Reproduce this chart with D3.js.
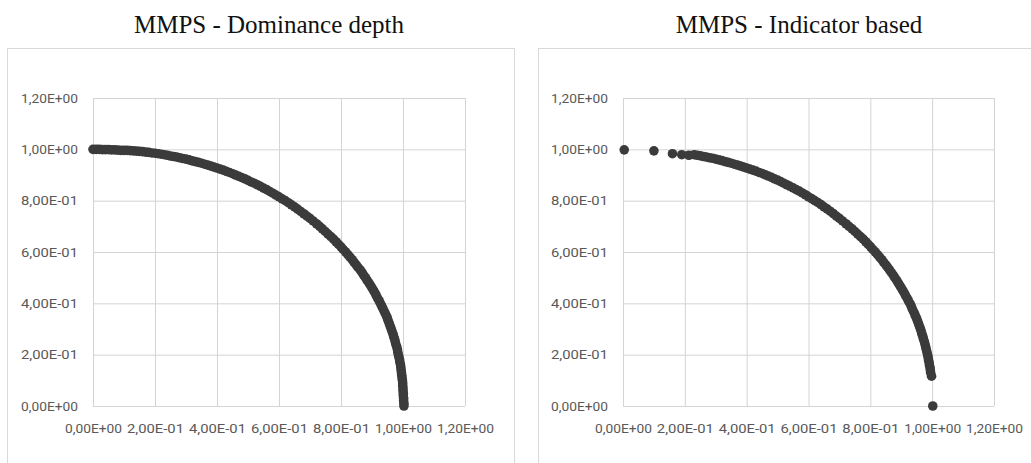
<!DOCTYPE html>
<html lang="en">
<head>
    <meta charset="UTF-8">
    <title>MMPS scatter plots</title>
    <script type="text/javascript" src="https://cdn.jsdelivr.net/npm/d3@7"></script>
    <style>
        body { margin: 0; background: #fff; }
    </style>
</head>
<body>
<script type="text/javascript">
    var w = 1031;
    var h = 463;

    var titles = ["MMPS - Dominance depth", "MMPS - Indicator based"];
    var tickValues = [0, 0.2, 0.4, 0.6, 0.8, 1.0, 1.2];
    var tickLabels = ["0,00E+00", "2,00E-01", "4,00E-01", "6,00E-01", "8,00E-01", "1,00E+00", "1,20E+00"];

    // points (upper part then the steep part)
    var depthPoints = [
        [0.00, 1.000], [0.01, 1.000], [0.02, 1.000], [0.03, 0.999], [0.04, 0.999], [0.05, 0.999],
        [0.06, 0.998], [0.07, 0.998], [0.08, 0.997], [0.09, 0.996], [0.10, 0.996], [0.11, 0.996],
        [0.12, 0.995], [0.13, 0.994], [0.14, 0.993], [0.15, 0.992], [0.16, 0.991], [0.17, 0.989],
        [0.18, 0.988], [0.19, 0.986], [0.20, 0.985], [0.21, 0.983], [0.22, 0.981], [0.23, 0.979],
        [0.24, 0.977], [0.25, 0.974], [0.26, 0.972], [0.27, 0.970], [0.28, 0.967], [0.29, 0.964],
        [0.30, 0.962], [0.31, 0.959], [0.32, 0.955], [0.33, 0.952], [0.34, 0.949], [0.35, 0.946],
        [0.36, 0.942], [0.37, 0.939], [0.38, 0.935], [0.39, 0.931], [0.40, 0.927], [0.41, 0.923],
        [0.42, 0.919], [0.43, 0.914], [0.44, 0.910], [0.45, 0.905], [0.46, 0.900], [0.47, 0.895],
        [0.48, 0.890], [0.49, 0.885], [0.50, 0.879], [0.51, 0.873], [0.52, 0.868], [0.53, 0.862],
        [0.54, 0.856], [0.55, 0.849], [0.56, 0.843], [0.57, 0.836], [0.58, 0.829], [0.59, 0.822],
        [0.60, 0.815], [0.61, 0.807], [0.62, 0.800], [0.63, 0.792], [0.64, 0.784], [0.65, 0.776],
        [0.66, 0.767], [0.67, 0.758], [0.68, 0.749], [0.69, 0.740], [0.70, 0.731], [0.71, 0.721],
        [0.721, 0.71], [0.731, 0.70], [0.740, 0.69], [0.749, 0.68], [0.758, 0.67], [0.767, 0.66],
        [0.776, 0.65], [0.784, 0.64], [0.792, 0.63], [0.800, 0.62], [0.807, 0.61], [0.815, 0.60],
        [0.822, 0.59], [0.829, 0.58], [0.836, 0.57], [0.842, 0.56], [0.849, 0.55], [0.855, 0.54],
        [0.862, 0.53], [0.868, 0.52], [0.873, 0.51], [0.879, 0.50], [0.884, 0.49], [0.890, 0.48],
        [0.895, 0.47], [0.900, 0.46], [0.905, 0.45], [0.910, 0.44], [0.914, 0.43], [0.918, 0.42],
        [0.923, 0.41], [0.927, 0.40], [0.931, 0.39], [0.935, 0.38], [0.939, 0.37], [0.943, 0.36],
        [0.947, 0.35], [0.950, 0.34], [0.953, 0.33], [0.956, 0.32], [0.959, 0.31], [0.962, 0.30],
        [0.965, 0.29], [0.968, 0.28], [0.970, 0.27], [0.973, 0.26], [0.975, 0.25], [0.977, 0.24],
        [0.980, 0.23], [0.982, 0.22], [0.983, 0.21], [0.985, 0.20], [0.987, 0.19], [0.989, 0.18],
        [0.990, 0.17], [0.992, 0.16], [0.993, 0.15], [0.994, 0.14], [0.995, 0.13], [0.996, 0.12],
        [0.997, 0.11], [0.998, 0.10], [0.999, 0.09], [0.999, 0.08], [1.000, 0.07], [1.000, 0.06],
        [1.001, 0.05], [1.001, 0.04], [1.002, 0.03], [1.002, 0.02], [1.003, 0.01], [1.003, 0.00]
    ];

    // points: a few lone points at both ends
    var indicatorPoints = [
        [0.004, 0.998], [0.100, 0.994], [0.160, 0.983], [0.190, 0.979], [0.213, 0.977],
        [0.23, 0.979], [0.24, 0.977], [0.25, 0.975], [0.26, 0.972], [0.27, 0.970], [0.28, 0.967],
        [0.29, 0.965], [0.30, 0.962], [0.31, 0.959], [0.32, 0.956], [0.33, 0.952], [0.34, 0.949],
        [0.35, 0.946], [0.36, 0.942], [0.37, 0.939], [0.38, 0.935], [0.39, 0.931], [0.40, 0.927],
        [0.41, 0.923], [0.42, 0.919], [0.43, 0.915], [0.44, 0.910], [0.45, 0.906], [0.46, 0.901],
        [0.47, 0.896], [0.48, 0.891], [0.49, 0.885], [0.50, 0.880], [0.51, 0.874], [0.52, 0.868],
        [0.53, 0.862], [0.54, 0.856], [0.55, 0.850], [0.56, 0.843], [0.57, 0.837], [0.58, 0.830],
        [0.59, 0.823], [0.60, 0.815], [0.61, 0.808], [0.62, 0.800], [0.63, 0.793], [0.64, 0.785],
        [0.65, 0.776], [0.66, 0.768], [0.67, 0.759], [0.68, 0.750], [0.69, 0.740], [0.70, 0.731],
        [0.71, 0.721],
        [0.721, 0.71], [0.731, 0.70], [0.741, 0.69], [0.750, 0.68], [0.759, 0.67], [0.768, 0.66],
        [0.777, 0.65], [0.785, 0.64], [0.793, 0.63], [0.801, 0.62], [0.808, 0.61], [0.816, 0.60],
        [0.823, 0.59], [0.830, 0.58], [0.837, 0.57], [0.843, 0.56], [0.850, 0.55], [0.856, 0.54],
        [0.862, 0.53], [0.868, 0.52], [0.874, 0.51], [0.879, 0.50], [0.885, 0.49], [0.890, 0.48],
        [0.895, 0.47], [0.900, 0.46], [0.905, 0.45], [0.910, 0.44], [0.914, 0.43], [0.919, 0.42],
        [0.923, 0.41], [0.928, 0.40], [0.932, 0.39], [0.935, 0.38], [0.939, 0.37], [0.943, 0.36],
        [0.946, 0.35], [0.950, 0.34], [0.953, 0.33], [0.956, 0.32], [0.959, 0.31], [0.962, 0.30],
        [0.965, 0.29], [0.967, 0.28], [0.970, 0.27], [0.972, 0.26], [0.975, 0.25], [0.977, 0.24],
        [0.979, 0.23], [0.981, 0.22], [0.983, 0.21], [0.985, 0.20], [0.987, 0.19], [0.988, 0.18],
        [0.990, 0.17], [0.991, 0.16], [0.993, 0.15], [0.994, 0.14], [0.995, 0.13],
        [0.998, 0.116],
        [1.002, 0.000]
    ];

    var svg = d3.select("body")
        .append("svg")
        .attr("width", w)
        .attr("height", h);

    var panels = [
        {box: [7, 48, 507, 430], plotX: [93, 465], plotY: [406, 98], titleX: 269, points: depthPoints},
        {box: [538, 48, 500, 430], plotX: [623, 994], plotY: [406, 98], titleX: 799, points: indicatorPoints}
    ];

    panels.forEach(function (p, k) {
        var g = svg.append("g");

        g.append("rect")
            .attr("x", p.box[0] + 0.5)
            .attr("y", p.box[1] + 0.5)
            .attr("width", p.box[2])
            .attr("height", p.box[3])
            .attr("fill", "none")
            .attr("stroke", "#d9d9d9");

        g.append("text")
            .text(titles[k])
            .attr("x", p.titleX)
            .attr("y", 33)
            .attr("text-anchor", "middle")
            .attr("font-family", "'Liberation Serif', 'Times New Roman', serif")
            .attr("font-size", "25px")
            .attr("fill", "#111");

        var xScale = d3.scaleLinear().domain([0, 1.2]).range(p.plotX);
        var yScale = d3.scaleLinear().domain([0, 1.2]).range(p.plotY);

        var plotW = p.plotX[1] - p.plotX[0];
        var plotH = p.plotY[0] - p.plotY[1];

        var xAxis = d3.axisBottom(xScale)
            .tickValues(tickValues)
            .tickFormat(function (d, i) { return tickLabels[i]; })
            .tickSizeInner(-plotH)
            .tickSizeOuter(0)
            .tickPadding(17);

        var yAxis = d3.axisLeft(yScale)
            .tickValues(tickValues)
            .tickFormat(function (d, i) { return tickLabels[i]; })
            .tickSizeInner(-plotW)
            .tickSizeOuter(0)
            .tickPadding(15);

        [g.append("g").attr("transform", "translate(0," + p.plotY[0] + ")").call(xAxis),
         g.append("g").attr("transform", "translate(" + p.plotX[0] + ",0)").call(yAxis)]
            .forEach(function (ax) {
                ax.select(".domain").remove();
                ax.selectAll("line").attr("stroke", "#d4d4d4");
                // labels are narrow in the source, squeeze them to the same width
                ax.selectAll("text")
                    .attr("font-family", "Roboto, sans-serif")
                    .attr("font-size", "13.5px")
                    .attr("textLength", 57)
                    .attr("lengthAdjust", "spacingAndGlyphs")
                    .attr("fill", "#595959");
            });

        g.selectAll("circle")
            .data(p.points).enter()
            .append("circle")
            .attr("cx", function (d) { return xScale(d[0]); })
            .attr("cy", function (d) { return yScale(d[1]); })
            .attr("r", 4.8)
            .attr("fill", "#3b3b3b");
    });
</script>
</body>
</html>
